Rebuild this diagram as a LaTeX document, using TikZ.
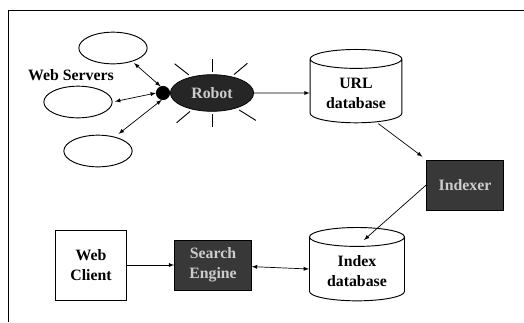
\documentclass[tikz,border=0pt]{standalone}
\usepackage{fontspec}
\setmainfont{Liberation Serif}
\usetikzlibrary{arrows.meta,shapes.geometric,calc}

\tikzset{
  lbl/.style={font=\fontsize{13.5}{17}\selectfont\bfseries, align=center},
  server/.style={draw, ellipse, thick, minimum width=2.05cm, minimum height=0.95cm},
  dbase/.style={draw, thick, cylinder, shape border rotate=90, aspect=0.28, lbl},
  darkbox/.style={draw, thick, fill=black!78, text=white!80!black, lbl,
    minimum width=2.3cm, minimum height=1.5cm},
  lightbox/.style={draw, thick, lbl, minimum width=2.15cm, minimum height=2.1cm},
}

\begin{document}
\begin{tikzpicture}[>=latex, x=0.03cm, y=-0.03cm, semithick]
  \useasboundingbox (0,0) rectangle (524,322);
  % frame
  \draw[thick] (524,10) -- (8,10) -- (8,322);

  \node[server] (srv1) at (113,48) {};
  \node[server] (srv2) at (78,102) {};
  \node[server] (srv3) at (98,151) {};
  \node[lbl] (ws) at (71,75) {Web Servers};

  \node[draw, circle, fill=black, minimum size=0.4cm, inner sep=0pt] (hub) at (163,93) {};
  \node[draw, ellipse, fill=black!85, text=white!80!black, lbl, inner sep=0pt,
        minimum width=2.5cm, minimum height=1.1cm] (robot) at (212,93) {Robot};
  \foreach \a in {40,90,142,220,270,328}
    \draw[thick] ($(robot.center)!1.12!(robot.\a)$) -- ($(robot.center)!1.8!(robot.\a)$);

  \node[dbase, minimum width=2.75cm, minimum height=2.2cm] (urldb) at (356,93) {URL\\database};
  \node[darkbox] (idx) at (465,185) {Indexer};
  \node[dbase, minimum width=2.85cm, minimum height=2.2cm] (idxdb) at (357,271) {Index\\database};
  \node[darkbox] (eng) at (213,265) {Search\\Engine};
  \node[lightbox] (client) at (91,265) {Web\\Client};
  \coordinate (idxtop) at (364,240);

  \draw[<->, shorten <=2pt] (srv1.-35) -- (hub.110);
  \draw[<->, shorten <=2pt] (srv2.east) -- (hub.west);
  \draw[<->, shorten <=4pt] (srv3.40) -- (hub.-100);
  \draw[->] (robot.east) -- (urldb.west);
  \draw[->, shorten <=2pt, shorten >=4pt] (urldb.-55) -- (idx.north west);
  \draw[->] (idx.west) -- (idxtop);
  \draw[->] (client) -- (eng);
  \draw[<->] (eng) -- (idxdb);
\end{tikzpicture}
\end{document}
